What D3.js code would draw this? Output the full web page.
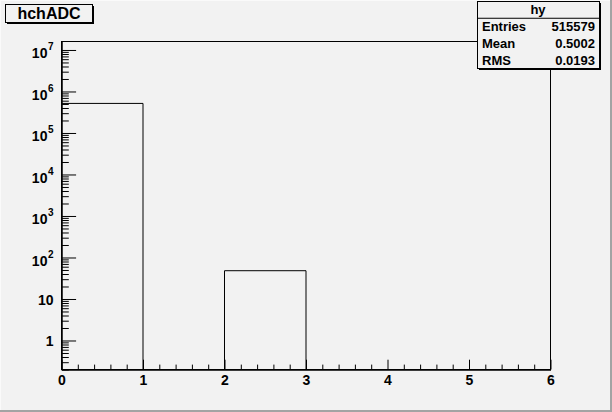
<!DOCTYPE html>
<html><head><meta charset="utf-8">
<script src="https://cdnjs.cloudflare.com/ajax/libs/d3/7.8.5/d3.min.js"></script>
<style>
html,body{margin:0;padding:0;background:#f2f2f2;}
svg{display:block;}
text{font-family:"Liberation Sans",Arial,Helvetica,sans-serif;font-weight:bold;fill:#000;}
</style></head>
<body>
<script>
// ---- data ----
const binEdges = [0, 1, 2, 3, 4, 5, 6];
const binCounts = [515531, 0, 48, 0, 0, 0];
const histTitle = "hchADC";
const statsName = "hy";
const statLabels = ["Entries", "Mean", "RMS"];
const statValues = ["515579", "0.5002", "0.0193"];
const xTickValues = [0, 1, 2, 3, 4, 5, 6];
const yMajorExponents = [0, 1, 2, 3, 4, 5, 6, 7];

const W = 612, H = 412;
const fl = 61, fr = 550, ft = 41, fb = 369;

const svg = d3.select("body").append("svg").attr("width", W).attr("height", H);
svg.append("rect").attr("width", W).attr("height", H).attr("fill", "#f2f2f2");
// canvas bevel
svg.append("rect").attr("x", W-2).attr("y", 0).attr("width", 2).attr("height", H).attr("fill", "#a3a3a3");
svg.append("rect").attr("x", 0).attr("y", H-2).attr("width", W).attr("height", 2).attr("fill", "#a3a3a3");
svg.append("rect").attr("x", 0).attr("y", 0).attr("width", W-2).attr("height", 1).attr("fill", "#fafafa");
svg.append("rect").attr("x", 0).attr("y", 0).attr("width", 1).attr("height", H-2).attr("fill", "#fafafa");

const x = d3.scaleLinear().domain([0, 6]).range([fl, fr]);
const y = d3.scaleLog().domain([0.2, 1.6e7]).range([fb, ft]);

// frame
svg.append("rect").attr("x", fl + 0.5).attr("y", ft + 0.5).attr("width", fr - fl).attr("height", fb - ft)
  .attr("fill", "none").attr("stroke", "#000").attr("stroke-width", 1);

// histogram outline
let p = d3.path();
p.moveTo(x(binEdges[0]), fb);
binCounts.forEach((c, i) => {
  const yy = c > 0 ? y(c) : fb;
  p.lineTo(x(binEdges[i]), yy);
  p.lineTo(x(binEdges[i + 1]), yy);
});
p.lineTo(x(binEdges[binEdges.length - 1]), fb);
svg.append("path").attr("d", p.toString()).attr("fill", "none").attr("stroke", "#000").attr("stroke-width", 1)
  .attr("transform", "translate(0.5,0.5)");

// x axis
const xMinor = d3.range(0, 30 + 1).map(i => i / 5).filter(v => Math.abs(v - Math.round(v)) > 1e-9);
const gxm = svg.append("g").attr("transform", `translate(0.5,${fb + 0.5})`)
  .call(d3.axisBottom(x).tickValues(xMinor).tickSize(-4.9).tickSizeOuter(0).tickFormat(""));
const gx = svg.append("g").attr("transform", `translate(0.5,${fb + 0.5})`)
  .call(d3.axisBottom(x).tickValues(xTickValues).tickSize(-9.8).tickSizeOuter(0).tickPadding(6).tickFormat(d3.format("d")));
[gxm, gx].forEach(g => { g.select(".domain").attr("stroke", "#000"); g.selectAll("line").attr("stroke", "#000"); });
gx.selectAll("text").attr("font-size", 14).attr("font-family", null);

// y axis
const yMajor = yMajorExponents.map(e => Math.pow(10, e));
const yMinor = [];
d3.range(-1, 8).forEach(e => { for (let k = 2; k <= 9; k++) { const v = k * Math.pow(10, e); if (v >= 0.2 && v <= 1.6e7) yMinor.push(v); } });
const gym = svg.append("g").attr("transform", `translate(${fl + 0.5},0.5)`)
  .call(d3.axisLeft(y).tickValues(yMinor).tickSize(-7.3).tickSizeOuter(0).tickFormat(""));
const gy = svg.append("g").attr("transform", `translate(${fl + 0.5},0.5)`)
  .call(d3.axisLeft(y).tickValues(yMajor).tickSize(-14.6).tickSizeOuter(0).tickPadding(8).tickFormat(""));
[gym, gy].forEach(g => { g.select(".domain").attr("stroke", "#000"); g.selectAll("line").attr("stroke", "#000"); });
gy.selectAll(".tick text").each(function (d) {
  const t = d3.select(this).attr("font-size", 14).attr("font-family", null).attr("dy", null);
  const e = Math.round(Math.log10(d));
  if (e <= 1) {
    t.attr("dy", "0.36em").text(e === 0 ? "1" : "10");
  } else {
    t.attr("dy", "0.55em");
    t.append("tspan").text("10");
    t.append("tspan").attr("font-size", 10).attr("dy", "-0.8em").attr("dx", "0.5").text(String(e));
  }
});

// title box
const tb = { x: 5, y: 4, w: 87, h: 18 };
svg.append("rect").attr("x", tb.x + 2).attr("y", tb.y + 2).attr("width", tb.w).attr("height", tb.h).attr("fill", "#000");
svg.append("rect").attr("x", tb.x + 0.5).attr("y", tb.y + 0.5).attr("width", tb.w).attr("height", tb.h)
  .attr("fill", "#f2f2f2").attr("stroke", "#000");
svg.append("text").attr("x", tb.x + tb.w / 2 + 0.5).attr("y", tb.y + tb.h / 2 + 6).attr("text-anchor", "middle")
  .attr("font-size", 16).text(histTitle);

// stats box
const sb = { x: 477, y: 1, w: 122, h: 67 };
svg.append("rect").attr("x", sb.x + 2).attr("y", sb.y + 2).attr("width", sb.w).attr("height", sb.h).attr("fill", "#000");
svg.append("rect").attr("x", sb.x + 0.5).attr("y", sb.y + 0.5).attr("width", sb.w).attr("height", sb.h)
  .attr("fill", "#f2f2f2").attr("stroke", "#000");
const rowH = sb.h / 4;
svg.append("line").attr("x1", sb.x).attr("x2", sb.x + sb.w).attr("y1", sb.y + rowH + 0.5).attr("y2", sb.y + rowH + 0.5).attr("stroke", "#000");
svg.append("text").attr("x", sb.x + sb.w / 2).attr("y", sb.y + rowH / 2 + 5).attr("text-anchor", "middle")
  .attr("font-size", 13).text(statsName);
statLabels.forEach((lab, i) => {
  const cy = sb.y + rowH * (i + 1.5);
  svg.append("text").attr("x", sb.x + 5).attr("y", cy + 5).attr("font-size", 13).text(lab);
  svg.append("text").attr("x", sb.x + sb.w - 4).attr("y", cy + 5).attr("text-anchor", "end").attr("font-size", 13).text(statValues[i]);
});
</script>
</body></html>
